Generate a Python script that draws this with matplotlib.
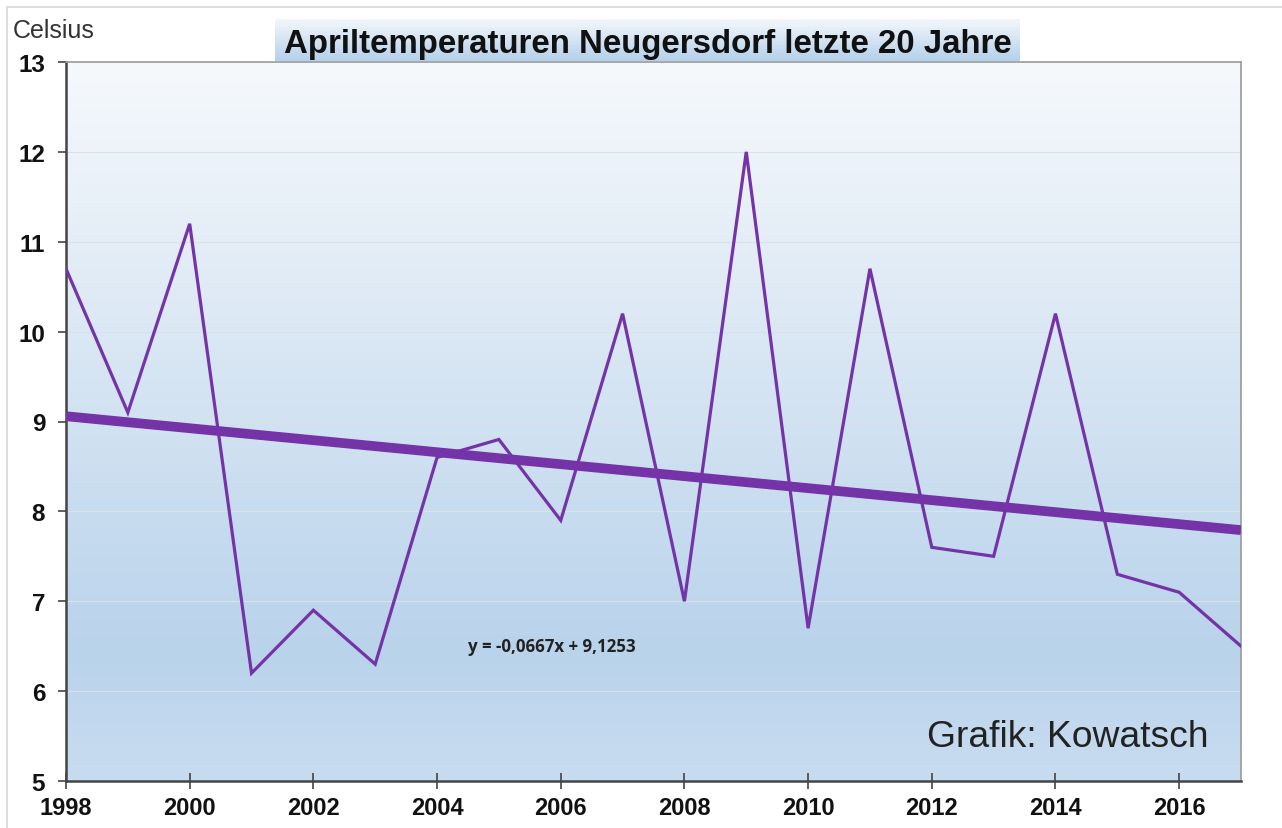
import numpy as np
import matplotlib
matplotlib.use("Agg")
import matplotlib.pyplot as plt
from matplotlib.colors import LinearSegmentedColormap
from matplotlib.patches import Rectangle

years = list(range(1998, 2018))
temps = [10.7, 9.1, 11.2, 6.2, 6.9, 6.3, 8.6, 8.8, 7.9, 10.2,
         7.0, 12.0, 6.7, 10.7, 7.6, 7.5, 10.2, 7.3, 7.1, 6.5]
slope, intercept = -0.0667, 9.1253
title = "Apriltemperaturen Neugersdorf letzte 20 Jahre"
xticks = list(range(1998, 2018, 2))
yticks = list(range(5, 14))

plt.rcParams['font.family'] = ['Liberation Sans', 'DejaVu Sans']
W, H = 1282, 829
fig = plt.figure(figsize=(W / 100, H / 100), dpi=100)

# outer frame
fig.patches.append(Rectangle((7 / W, -0.01), 1.1, 1 - 8 / H + 0.01, transform=fig.transFigure,
                             fill=False, edgecolor='#d8d8d8', linewidth=1.2))

left, right, top, bottom = 66, 1241, 63, 782
ax = fig.add_axes([left / W, 1 - bottom / H, (right - left) / W, (bottom - top) / H])

# gradient background (row 0 = top)
cmap_bg = LinearSegmentedColormap.from_list(
    'bg', [(0.0, '#f6f9fc'), (0.35, '#dde9f5'), (0.82, '#b9d3eb'), (1.0, '#c8dcf0')])
grad = np.linspace(0, 1, 256).reshape(-1, 1)
ax.imshow(grad, aspect='auto', cmap=cmap_bg, origin='upper',
          extent=[1998, 2017, 5, 13], zorder=0)

ax.set_xlim(1998, 2017)
ax.set_ylim(5, 13)
for y in yticks[1:-1]:
    ax.axhline(y, color='#d9e2ea', linewidth=0.8, zorder=1)

purple = '#7434a8'
ax.plot(years, temps, color=purple, linewidth=2.3, zorder=3, solid_joinstyle='miter')
xi = np.arange(1, len(years) + 1)
ax.plot(years, slope * xi + intercept, color=purple, linewidth=7, zorder=4, solid_capstyle='butt')

ax.text(2004.5, 6.5, "y = -0,0667x + 9,1253", fontsize=12.2, fontweight='bold',
        family=['Open Sans', 'DejaVu Sans'], color='#222222', va='center', ha='left', zorder=5)
ax.text(2016.47, 5.5, "Grafik: Kowatsch", fontsize=26.8, ha='right', va='center',
        color='#222222', zorder=5)

ax.set_xticks(xticks)
ax.set_yticks(yticks)
ax.set_xticklabels([str(x) for x in xticks], fontsize=17, fontweight='bold', color='#111111')
ax.set_yticklabels([str(y) for y in yticks], fontsize=17.5, fontweight='bold', color='#111111')
ax.tick_params(axis='x', direction='inout', length=12, width=1.2, color='#444444', pad=5)
ax.tick_params(axis='y', direction='out', length=6, width=1.2, color='#444444', pad=9)
for s in ['left', 'bottom']:
    ax.spines[s].set_color('#444444')
    ax.spines[s].set_linewidth(1.8)
for s in ['top', 'right']:
    ax.spines[s].set_color('#9a9a9a')
    ax.spines[s].set_linewidth(1.2)

# title with gradient box
tx0, tx1, ty0, ty1 = 275, 1020, 20, 62
tax = fig.add_axes([tx0 / W, 1 - ty1 / H, (tx1 - tx0) / W, (ty1 - ty0) / H])
cmap_t = LinearSegmentedColormap.from_list('t', ['#f5f8fc', '#b4d0ea'])
tax.imshow(grad, aspect='auto', cmap=cmap_t, origin='upper', extent=[0, 1, 0, 1])
tax.set_xlim(0, 1)
tax.set_ylim(0, 1)
tax.axis('off')
tax.text(0.5, 0.42, title, ha='center', va='center', fontsize=23.8, fontweight='bold', color='#111111')

fig.text(13 / W, 1 - 31 / H, "Celsius", fontsize=18, va='center', ha='left', color='#333333')

fig.savefig('out.png', dpi=100)
